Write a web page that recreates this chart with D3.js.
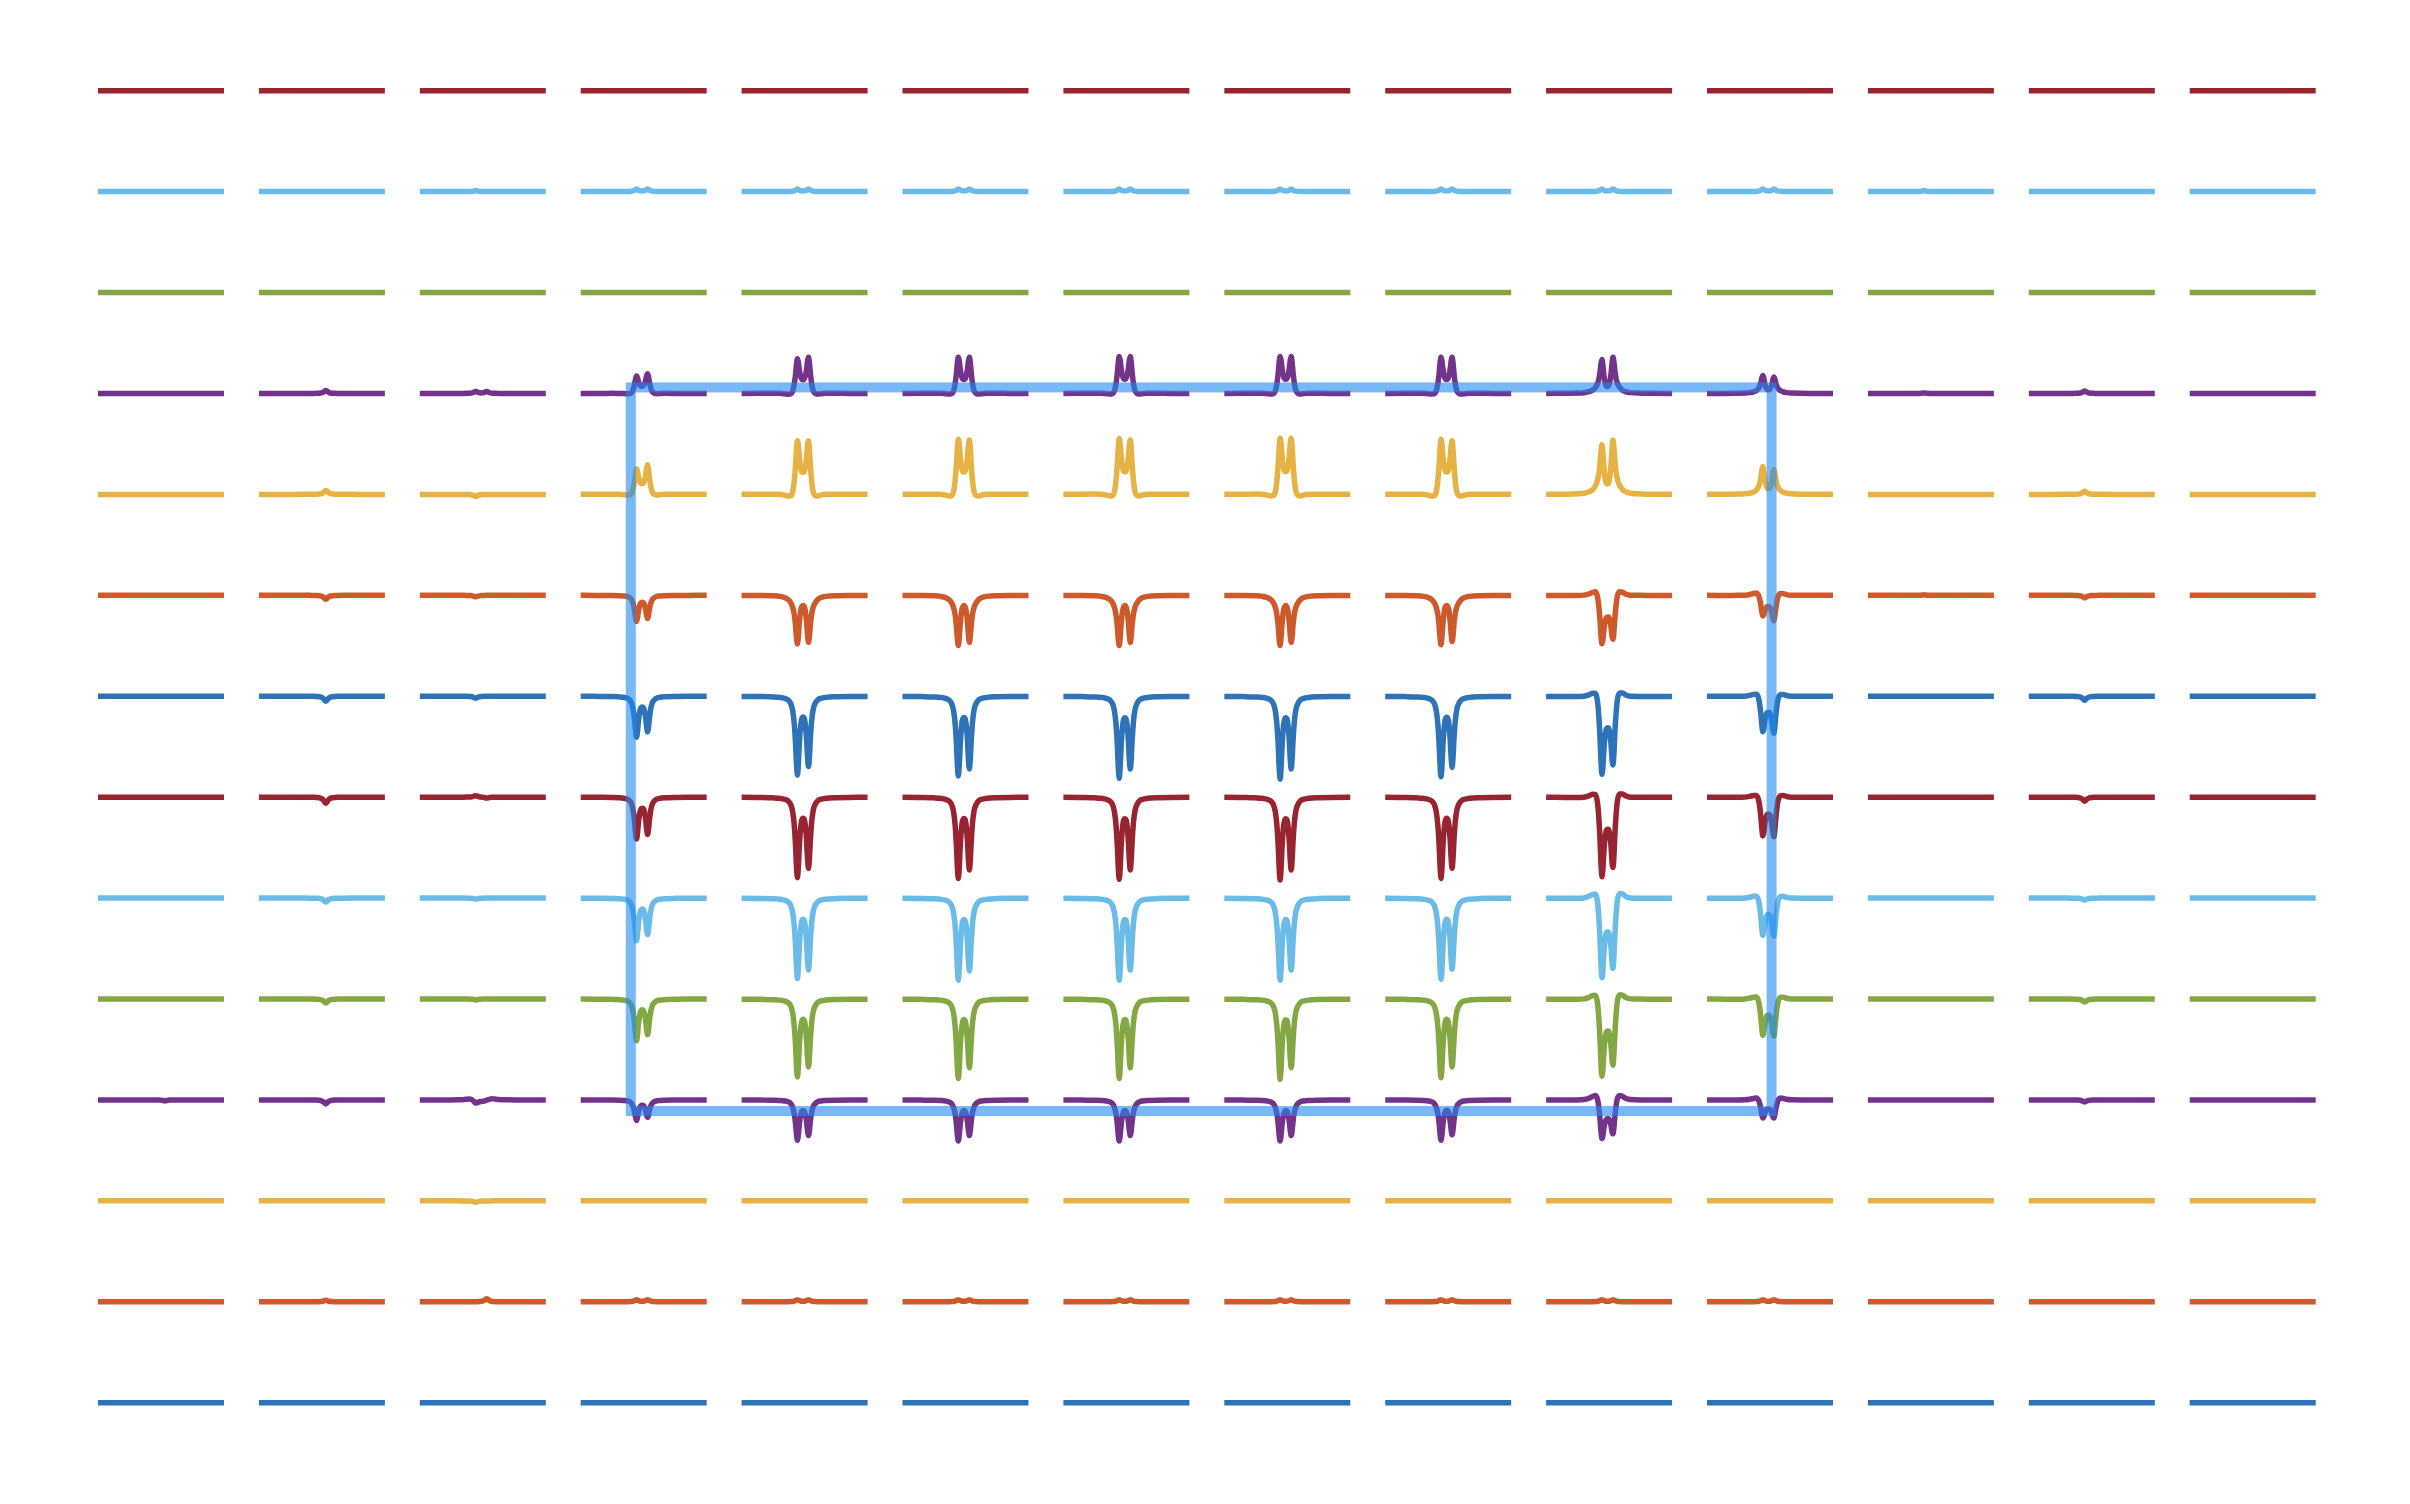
<!DOCTYPE html>
<html>
<head>
<meta charset="utf-8">
<script src="https://cdn.jsdelivr.net/npm/d3@7"></script>
<style>
  html, body { margin: 0; padding: 0; background: #ffffff; }
</style>
</head>
<body>
<svg id="chart" width="2410" height="1504"></svg>
<script>
// 14 x 14 grid of spectra (rows top to bottom, columns left to right)
const rowIds = d3.range(14);
const colIds = d3.range(14);

// Line colours, assigned from the bottom row upwards
const palette = ["#2E72B8", "#CE5A2C", "#E6B244", "#74338A", "#83A843", "#6ABBE8", "#982331"];

// Spectral axis inside one cell (0 = left end, 1 = right end)
const shapeT = [0, 0.15, 0.25, 0.30, 0.34, 0.37, 0.39, 0.405, 0.418, 0.428, 0.436, 0.443,
  0.450, 0.458, 0.468, 0.478, 0.487, 0.496, 0.506, 0.516, 0.524, 0.531,
  0.538, 0.546, 0.556, 0.569, 0.585, 0.605, 0.63, 0.67, 0.75, 0.85, 1.0];
// Normalised line shapes of the doublet: left line, right line, phase "ear" component
const leftLine = [0.001, 0.003, 0.006, 0.011, 0.021, 0.042, 0.085, 0.17, 0.341, 0.59, 0.869, 1,
  0.869, 0.59, 0.341, 0.209, 0.143, 0.095, 0.065, 0.045, 0.036, 0.030,
  0.026, 0.022, 0.018, 0.014, 0.011, 0.008, 0.006, 0.004, 0.002, 0.001, 0.001];
const rightLine = [0.001, 0.0015, 0.003, 0.004, 0.006, 0.009, 0.011, 0.014, 0.018, 0.022, 0.026, 0.030,
  0.036, 0.045, 0.065, 0.095, 0.143, 0.209, 0.341, 0.59, 0.869, 1,
  0.869, 0.59, 0.341, 0.17, 0.09, 0.042, 0.023, 0.012, 0.005, 0.002, 0.001];
const phaseEar = [0, 0.005, 0.03, 0.1, 0.3, 0.6, 0.9, 1.0, 0.7, 0.4, 0.15, 0,
  -0.3, -0.6, -0.85, -0.95, -1.0, -0.95, -0.85, -0.6, -0.3, 0,
  0.15, 0.4, 0.7, 1.0, 0.9, 0.6, 0.3, 0.1, 0.03, 0.005, 0];

// Per-voxel amplitudes (a.u.) of the left line
const leftAmp = [
  [0,0,0,0,0,0,0,0,0,0,0,0,0,0],
  [0,0,1.2,3.1,3.1,3.1,3.1,3.1,3.1,3.1,3.1,1.2,0,0],
  [0,0,0,0,0,0,0,0,0,0,0,0,0,0],
  [0,0,2.5,21,42,44,45,45,44,41,22,0.6,3.1,0],
  [0,0,-2.5,31,65,67,68,68,67,60,34,0,3.8,0],
  [0,0,-1.9,-32,-59,-61,-61,-61,-60,-59,-25,0.6,-3.1,0],
  [0,0,-2.5,-50,-96,-97,-100,-101,-98,-95,-43,0,-5,0],
  [0,0,1.9,-51,-98,-99,-100,-101,-99,-97,-47,0,-5,0],
  [0,0,-1.2,-52,-98,-100,-100,-100,-99,-97,-45,0,-2.5,0],
  [0,0,-1.2,-51,-95,-97,-97,-98,-96,-94,-44,0,-3.8,0],
  [0,0,-3.8,-25,-49,-50,-50,-50,-49,-47,-22,0,-2.5,0],
  [0,0,-1.9,0,0,0,0,0,0,0,0,0,0,0],
  [0,0,0,2.5,2.5,2.5,2.5,2.5,2.5,2.5,2.5,0,0,0],
  [0,0,0,0,0,0,0,0,0,0,0,0,0,0]
];
// Per-voxel amplitudes (a.u.) of the right line
const rightAmp = [
  [0,0,0,0,0,0,0,0,0,0,0,0,0,0],
  [0,0,0,3.1,3.1,3.1,3.1,3.1,3.1,3.1,3.1,0,0,0],
  [0,0,0,0,0,0,0,0,0,0,0,0,0,0],
  [0,3.8,2.5,24,44,44,45,45,44,44,20,0,0,0],
  [0,5,0,36,65,66,66,68,65,66,30,0,0,0],
  [0,-5,0,-28,-57,-57,-57,-57,-56,-53,-31,0,0,0],
  [0,-6.2,0,-43,-85,-88,-88,-88,-86,-83,-45,0,0,0],
  [0,-7.5,-1.2,-45,-86,-88,-88,-88,-86,-85,-48,0,0,0],
  [0,-5,0,-44,-87,-88,-87,-87,-86,-85,-46,0,0,0],
  [0,-5,0,-43,-82,-83,-83,-83,-82,-80,-45,0,0,0],
  [-1.2,-5,0,-21,-43,-43,-43,-43,-42,-41,-22,0,0,0],
  [0,0,0,0,0,0,0,0,0,0,0,0,0,0],
  [0,1.9,3.8,2.5,2.5,2.5,2.5,2.5,2.5,2.5,2.5,0,0,0],
  [0,0,0,0,0,0,0,0,0,0,0,0,0,0]
];
// Per-voxel amplitude (a.u.) of the phase component
const earAmp = [
  [0,0,0,0,0,0,0,0,0,0,0,0,0,0],
  [0,0,0,0,0,0,0,0,0,0,0,0,0,0],
  [0,0,0,0,0,0,0,0,0,0,0,0,0,0],
  [0,0,0,-2.5,-5,-5,-5,-5,-5,3.5,1.5,0,0,0],
  [0,0,0,-4,-9,-9,-9,-9,-9,5,2,0,0,0],
  [0,0,0,0,-4,-4,-4,-4,-4,11,6,0,0,0],
  [0,0,0,0,0,0,0,0,0,14,7.5,0,0,0],
  [0,0,0,0,0,0,0,0,0,14,7.5,0,0,0],
  [0,0,0,0,0,0,0,0,0,16,7.5,0,0,0],
  [0,0,0,0,0,0,0,0,0,15,7.5,0,0,0],
  [0,0,1.5,0,0,0,0,0,0,11,5,0,0,0],
  [0,0,0,0,0,0,0,0,0,0,0,0,0,0],
  [0,0,0,0,0,0,0,0,0,0,0,0,0,0],
  [0,0,0,0,0,0,0,0,0,0,0,0,0,0]
];

// Selected volume, in voxel-grid units (column, row)
const boxCols = [2.93, 10.02];
const boxRows = [2.94, 10.11];

const svg = d3.select("#chart");

const colBand = d3.scaleBand().domain(colIds).range([98, 2315.7]).paddingInner(0.217).paddingOuter(0);
const rowPos = d3.scalePoint().domain(rowIds).range([90.7, 1402.7]);
const bw = colBand.bandwidth();
const amp = d3.scaleLinear().domain([-100, 100]).range([80, -80]);

const cells = [];
rowIds.forEach(r => colIds.forEach(c => cells.push({ r, c })));

const gLines = svg.append("g")
  .attr("fill", "none")
  .attr("stroke-width", 5.5)
  .attr("stroke-linejoin", "round")
  .attr("stroke-linecap", "butt");

gLines.selectAll("path")
  .data(cells)
  .join("path")
  .attr("stroke", d => palette[(13 - d.r) % 7])
  .attr("d", d => {
    const x = d3.scaleLinear().domain([0, 1]).range([colBand(d.c), colBand(d.c) + bw]);
    const base = rowPos(d.r);
    const aL = leftAmp[d.r][d.c], aR = rightAmp[d.r][d.c], aE = earAmp[d.r][d.c];
    const values = shapeT.map((t, i) => aL * leftLine[i] + aR * rightLine[i] + aE * phaseEar[i]);
    return d3.line()
      .x((v, i) => x(shapeT[i]))
      .y(v => base + amp(v))
      .curve(d3.curveMonotoneX)(values);
  });

// Voxel-grid scales for the selection box (centre of each voxel's doublet)
const gx = d3.scaleLinear().domain([0, 13]).range([colBand(0) + 0.487 * bw, colBand(13) + 0.487 * bw]);
const gy = d3.scaleLinear().domain([0, 13]).range([rowPos(0), rowPos(13)]);

svg.append("rect")
  .attr("x", gx(boxCols[0]))
  .attr("y", gy(boxRows[0]))
  .attr("width", gx(boxCols[1]) - gx(boxCols[0]))
  .attr("height", gy(boxRows[1]) - gy(boxRows[0]))
  .attr("fill", "none")
  .attr("stroke", "rgb(30,136,240)")
  .attr("stroke-opacity", 0.6)
  .attr("stroke-width", 10);
</script>
</body>
</html>
